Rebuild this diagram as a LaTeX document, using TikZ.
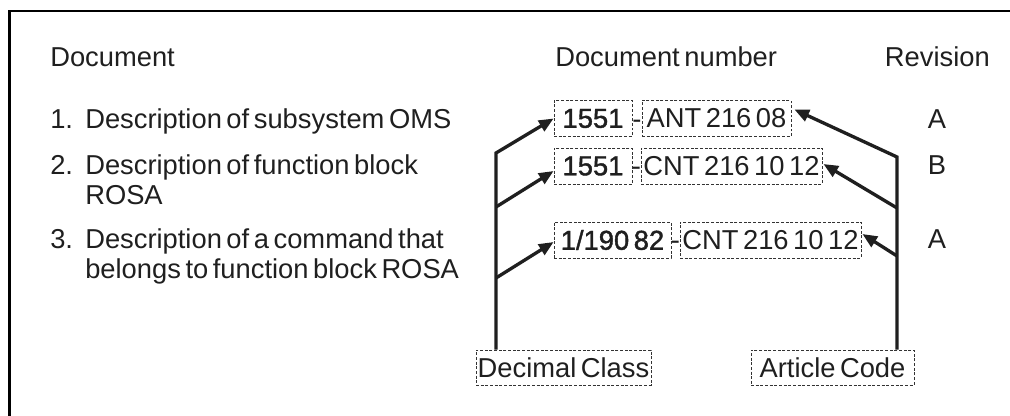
\documentclass[tikz,border=0pt]{standalone}
\usepackage{fontspec}
\setmainfont[WordSpace=0.6]{Liberation Sans}
\newfontfamily\medfont[WordSpace=0.6,FakeBold=1.5]{Liberation Sans}
\usetikzlibrary{arrows.meta,calc}
\begin{document}
\begin{tikzpicture}[x=0.75pt,y=-0.75pt,
  txt/.style={font=\fontsize{20.5}{24}\selectfont, text=black!88, inner sep=0pt},
  dbox/.style={draw=black!80, dash pattern=on 2.2pt off 1.3pt, line width=0.6pt, inner sep=0pt,
    minimum height=27pt, font=\fontsize{20.5}{24}\selectfont, text=black!88},
  conn/.style={line width=2.5pt, draw=black!88},
  arr/.style={conn, -{Triangle[length=11pt,width=9pt]}},
]
\useasboundingbox (0,0) rectangle (1010,416);
\draw[line width=1.9pt] (9.5,416) -- (9.5,11) -- (1010,11);

% headers
\node[txt, anchor=base west] (hdoc) at (50,67) {Document};
\node[txt, anchor=base west] (hnum) at (555,67) {Document number};
\node[txt, anchor=base east] (hrev) at (990,67) {Revision};

% document list
\node[txt, anchor=base west] (n1) at (50,129) {1.};
\node[txt, anchor=base west] (d1) at (85,129) {Description of subsystem OMS};
\node[txt, anchor=base west] (n2) at (50,175) {2.};
\node[txt, anchor=base west] (d2a) at (85,175) {Description of function block};
\node[txt, anchor=base west] (d2b) at (85,205) {ROSA};
\node[txt, anchor=base west] (n3) at (50,249) {3.};
\node[txt, anchor=base west] (d3a) at (85,249) {Description of a command that};
\node[txt, anchor=base west] (d3b) at (85,279) {belongs to function block ROSA};

% revisions
\node[txt, anchor=base] (r1) at (937,129) {A};
\node[txt, anchor=base] (r2) at (937,175) {B};
\node[txt, anchor=base] (r3) at (937,249) {A};

% document number boxes
\node[dbox, minimum width=58.5pt] (b1a) at (593,118.5) {\medfont 1551};
\node[txt, anchor=base] (h1) at (637,128.5) {-};
\node[dbox, minimum width=111.75pt] (b1b) at (716.5,118.5) {ANT 216 08};

\node[dbox, minimum width=58.5pt] (b2a) at (593,166) {\medfont 1551};
\node[txt, anchor=base] (h2) at (636.5,176) {-};
\node[dbox, minimum width=135.75pt] (b2b) at (731.5,166) {CNT 216 10 12};

\node[dbox, minimum width=87.75pt] (b3a) at (612.5,240) {\medfont 1/190 82};
\node[txt, anchor=base] (h3) at (675.5,250) {-};
\node[dbox, minimum width=135.75pt] (b3b) at (770.5,240) {CNT 216 10 12};

% labels
\node[dbox, minimum width=131.25pt, minimum height=26.25pt] (dc) at (563.5,367.5) {Decimal Class};
\node[dbox, minimum width=122.25pt, minimum height=26.25pt] (ac) at (832.5,367.5) {Article Code};

% connectors left
\coordinate (L1) at (496,153);
\coordinate (L2) at (496,207);
\coordinate (L3) at (496,278);
\draw[arr] (L1 |- dc.north) -- (L1) -- (b1a.west);
\draw[arr] (L2) -- ($(b2a.west)+(0,5)$);
\draw[arr] (L3) -- ($(b3a.west)+(0,2)$);

% connectors right
\coordinate (R1) at (897,157);
\coordinate (R2) at (897,208);
\coordinate (R3) at (897,256);
\draw[arr] (R1 |- ac.north) -- (R1) -- ($(b1b.east)+(3,-9)$);
\draw[arr] (R2) -- ($(b2b.east)+(1,-2)$);
\draw[arr] (R3) -- ($(b3b.east)+(1,-6)$);
\end{tikzpicture}
\end{document}
